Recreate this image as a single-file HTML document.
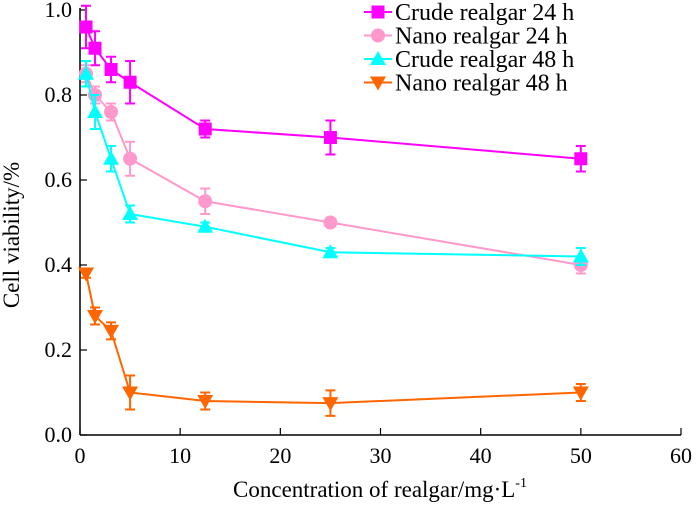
<!DOCTYPE html>
<html><head><meta charset="utf-8"><style>
body{margin:0;background:#fff}
text{font-family:"Liberation Serif",serif}
</style></head><body>
<svg id="chart" width="700" height="502" xmlns="http://www.w3.org/2000/svg"></svg>
<script>
const concentrations=[0.6,1.5,3.1,5,12.5,25,50];
const crude24=[0.96,0.91,0.86,0.83,0.72,0.70,0.65];
const crude24Err=[0.05,0.04,0.03,0.05,0.02,0.04,0.03];
const nano24=[0.85,0.80,0.76,0.65,0.55,0.50,0.40];
const nano24Err=[0.02,0.02,0.02,0.04,0.03,0.01,0.02];
const crude48=[0.85,0.76,0.65,0.52,0.49,0.43,0.42];
const crude48Err=[0.03,0.04,0.03,0.02,0.01,0.01,0.02];
const nano48=[0.38,0.28,0.245,0.10,0.08,0.075,0.10];
const nano48Err=[0.01,0.02,0.02,0.04,0.02,0.03,0.02];
const xTicks=[0,10,20,30,40,50,60];
const yTicks=[0,0.2,0.4,0.6,0.8,1.0];
const seriesNames=["Crude realgar 24 h","Nano realgar 24 h","Crude realgar 48 h","Nano realgar 48 h"];

const NS="http://www.w3.org/2000/svg";
const svg=document.getElementById('chart');
const X=v=>80+v*(601/60);
const Y=v=>435-v*425;
function mk(tag,attrs,parent){const e=document.createElementNS(NS,tag);for(const k in attrs)e.setAttribute(k,attrs[k]);(parent||svg).appendChild(e);return e;}

const axes=mk('g',{});


mk('line',{x1:80,y1:Y(1.0)-2,x2:80,y2:435,stroke:'#000','stroke-width':1.5},axes);
mk('line',{x1:80,y1:435,x2:X(60),y2:435,stroke:'#000','stroke-width':1.5},axes);
xTicks.forEach(t=>{
  mk('line',{x1:X(t),y1:435,x2:X(t),y2:428,stroke:'#000','stroke-width':1.2},axes);
  const tx=mk('text',{x:X(t),y:463,'font-size':22,'text-anchor':'middle'},axes);
  
  
  tx.textContent=t;
});
yTicks.forEach(t=>{
  mk('line',{x1:80,y1:Y(t),x2:87,y2:Y(t),stroke:'#000','stroke-width':1.2},axes);
  const tx=mk('text',{x:72,y:Y(t)+7,'font-size':22,'text-anchor':'end'},axes);
  
  
  tx.textContent=t.toFixed(1);
});
const xt=mk('text',{x:380,y:497,'font-size':23,'text-anchor':'middle'});


xt.innerHTML='Concentration of realgar/mg·L<tspan dy="-10" font-size="14">-1</tspan>';
const yt=mk('text',{x:0,y:0,'font-size':23,'text-anchor':'middle',transform:'translate(19,235) rotate(-90)'});


yt.textContent='Cell viability/%';

function marker(kind,cx,cy,color,parent){
  if(kind==='square')return mk('rect',{x:cx-6.5,y:cy-6.5,width:13,height:13,fill:color},parent);
  if(kind==='circle')return mk('circle',{cx:cx,cy:cy,r:7,fill:color},parent);
  if(kind==='up')return mk('polygon',{points:`${cx},${cy-8} ${cx-8},${cy+6} ${cx+8},${cy+6}`,fill:color},parent);
  return mk('polygon',{points:`${cx},${cy+8} ${cx-8},${cy-6} ${cx+8},${cy-6}`,fill:color},parent);
}
const series=[
 {vals:crude24,err:crude24Err,color:'#ff00ff',kind:'square',name:'series-crude-24h'},
 {vals:nano24,err:nano24Err,color:'#ff99cc',kind:'circle',name:'series-nano-24h'},
 {vals:crude48,err:crude48Err,color:'#00ffff',kind:'up',name:'series-crude-48h'},
 {vals:nano48,err:nano48Err,color:'#ff6600',kind:'down',name:'series-nano-48h'}
];
series.forEach((s,si)=>{
  const g=mk('g',{});
  
  
  mk('polyline',{points:concentrations.map((c,i)=>X(c)+','+Y(s.vals[i])).join(' '),fill:'none',stroke:s.color,'stroke-width':2},g);
  concentrations.forEach((c,i)=>{
    const x=X(c),y1=Y(s.vals[i]+s.err[i]),y2=Y(s.vals[i]-s.err[i]);
    const eb=mk('path',{d:`M${x},${y1}V${y2}M${x-5},${y1}H${x+5}M${x-5},${y2}H${x+5}`,stroke:s.color,'stroke-width':2,fill:'none'},g);
    
    
    const m=marker(s.kind,x,Y(s.vals[i]),s.color,g);
    
    
  });
  const lg=mk('g',{},svg);
  
  
  const ly=12+si*23.5;
  mk('line',{x1:364,y1:ly,x2:392,y2:ly,stroke:s.color,'stroke-width':2},lg);
  marker(s.kind,378,ly,s.color,lg);
  const t=mk('text',{x:395,y:ly+8,'font-size':24},lg);
  t.textContent=seriesNames[si];
});
</script>
</body></html>
